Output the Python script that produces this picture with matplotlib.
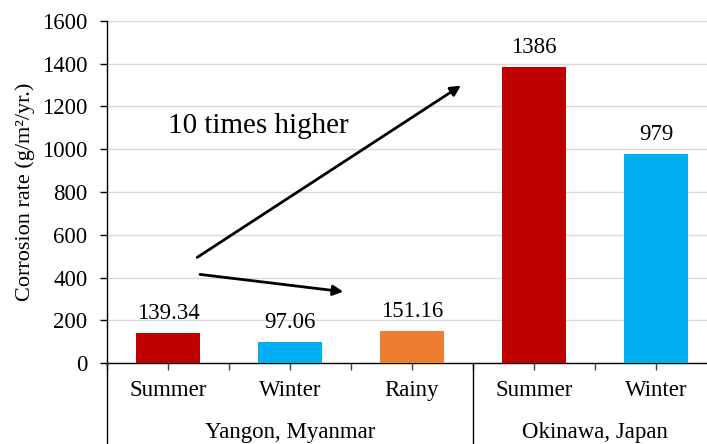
import numpy as np
import matplotlib
matplotlib.use("Agg")
import matplotlib.pyplot as plt

seasons = ["Summer", "Winter", "Rainy", "Summer", "Winter"]
sites = ["Yangon, Myanmar", "Okinawa, Japan"]
site_sizes = [3, 2]
rates = [139.34, 97.06, 151.16, 1386, 979]
rate_labels = ["139.34", "97.06", "151.16", "1386", "979"]
bar_colors = ["#C00000", "#00B0F0", "#ED7D31", "#C00000", "#00B0F0"]

plt.rcParams["font.family"] = ["Liberation Serif", "DejaVu Serif"]
FS = 16.5

fig = plt.figure(figsize=(7.07, 4.44), dpi=100)
ax = fig.add_axes([107 / 707, 1 - 363 / 444, 610 / 707, 342 / 444])

x = np.arange(len(rates))
ax.bar(x, rates, width=0.53, color=bar_colors, zorder=3)
for xi, v, lab in zip(x, rates, rate_labels):
    ax.annotate(lab, (xi, v), xytext=(0, 6.5), textcoords="offset points",
                ha="center", va="bottom", fontsize=FS)

ax.set_xlim(-0.5, len(rates) - 0.5)
ax.set_ylim(0, 1600)
ax.set_yticks(np.arange(0, 1601, 200))
ax.tick_params(axis="y", labelsize=FS, length=5, width=1, direction="out", pad=9)
ax.set_xticks(np.arange(-0.5, len(rates), 0.5))
ax.set_xticklabels([])
ax.tick_params(axis="x", length=5, width=1, direction="out", color="#404040")
ax.grid(axis="y", color="#D9D9D9", linewidth=1, zorder=0)
ax.set_axisbelow(True)
for s in ["top", "right"]:
    ax.spines[s].set_visible(False)
ax.spines["left"].set_linewidth(1)
ax.spines["bottom"].set_linewidth(1)
ax.set_ylabel("Corrosion rate (g/m²/yr.)", fontsize=16, labelpad=5)

# two-level category axis
tr = ax.get_xaxis_transform()
for xi, s in zip(x, seasons):
    ax.text(xi, -0.079, s, transform=tr, ha="center", va="center", fontsize=FS)
start = -0.5
for name, n in zip(sites, site_sizes):
    ax.text(start + n / 2, -0.202, name, transform=tr, ha="center", va="center", fontsize=FS)
    ax.plot([start, start], [0, -0.3], transform=tr, color="black", lw=1, clip_on=False)
    start += n

# annotation arrows
ax.annotate("", xy=(2.42, 1305), xytext=(0.22, 487),
            arrowprops=dict(arrowstyle="-|>", color="black", lw=2, mutation_scale=15))
ax.annotate("", xy=(1.46, 332), xytext=(0.24, 416),
            arrowprops=dict(arrowstyle="-|>", color="black", lw=2, mutation_scale=15))
ax.text(0.0, 1109, "10 times higher", fontsize=21, ha="left", va="center")

fig.savefig("out.png", dpi=100)
